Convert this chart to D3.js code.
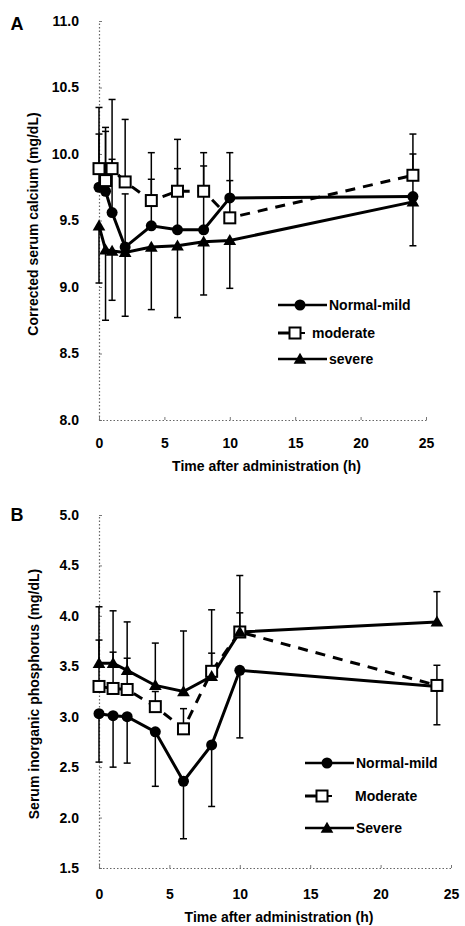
<!DOCTYPE html>
<html>
<head>
<meta charset="utf-8">
<script src="https://cdn.jsdelivr.net/npm/d3@7"></script>
<style>
  html, body { margin: 0; padding: 0; background: #fff; }
  svg { display: block; font-family: "Liberation Sans", Arial, sans-serif; }
</style>
</head>
<body>
<div id="chart"></div>
<script>
// ---- data ----
const timesA = [0, 0.5, 1, 2, 4, 6, 8, 10, 24];
const calciumNormal   = [9.75, 9.72, 9.56, 9.30, 9.46, 9.43, 9.43, 9.67, 9.68];
const calciumModerate = [9.89, 9.80, 9.89, 9.79, 9.65, 9.72, 9.72, 9.52, 9.84];
const calciumSevere   = [9.46, 9.28, 9.27, 9.26, 9.30, 9.31, 9.34, 9.35, 9.64];
const calciumNormalSD   = [0.40, 0.45, 0.40, 0.40, 0.35, 0.46, 0.48, 0.34, 0.32];
const calciumModerateSD = [0.46, 0.40, 0.52, 0.47, 0.36, 0.39, 0.29, 0.28, 0.31];
const calciumSevereSD   = [0.43, 0.53, 0.37, 0.48, 0.47, 0.54, 0.40, 0.36, 0.33];

const timesB = [0, 1, 2, 4, 6, 8, 10, 24];
const phosNormal   = [3.03, 3.01, 3.00, 2.85, 2.36, 2.72, 3.46, 3.30];
const phosModerate = [3.30, 3.28, 3.27, 3.10, 2.88, 3.45, 3.84, 3.31];
const phosSevere   = [3.53, 3.53, 3.46, 3.31, 3.25, 3.40, 3.84, 3.94];
const phosNormalSD   = [0.48, 0.51, 0.46, 0.54, 0.57, 0.61, 0.67, 0.38];
const phosModerateSD = [0.46, 0.36, 0.31, 0.15, 0.20, 0.18, 0.19, 0.20];
const phosSevereSD   = [0.56, 0.52, 0.48, 0.42, 0.60, 0.66, 0.56, 0.30];

const xTicks = [0, 5, 10, 15, 20, 25];
const yTicksA = [8.0, 8.5, 9.0, 9.5, 10.0, 10.5, 11.0];
const yTicksB = [1.5, 2.0, 2.5, 3.0, 3.5, 4.0, 4.5, 5.0];

const labelsA = ['Normal-mild', 'moderate', 'severe'];
const labelsB = ['Normal-mild', 'Moderate', 'Severe'];

const W = 465, H = 926;
const svg = d3.select('#chart').append('svg')
  .attr('width', W).attr('height', H);

function marker(g, kind, x, y) {
  if (kind === 'circle') {
    g.append('circle').attr('cx', x).attr('cy', y).attr('r', 5.5).attr('fill', '#000');
  } else if (kind === 'square') {
    g.append('rect').attr('x', x - 5.5).attr('y', y - 5.5)
      .attr('width', 11).attr('height', 11)
      .attr('fill', '#fff').attr('stroke', '#000').attr('stroke-width', 2);
  } else {
    g.append('path').attr('d', d3.symbol(d3.symbolTriangle, 70)())
      .attr('transform', `translate(${x},${y + 1})`).attr('fill', '#000');
  }
}

function drawPanel(p) {
  const x = d3.scaleLinear().domain([0, 25]).range(p.xRange);
  const y = d3.scaleLinear().domain(p.yDomain).range(p.yRange);
  const g = svg.append('g');

  // axes (faint dotted, as in the scan)
  const yAxis = g.append('g').attr('transform', `translate(${p.xRange[0]},0)`)
    .call(d3.axisLeft(y).tickValues(p.yTicks).tickFormat(d3.format('.1f'))
      .tickSizeInner(3).tickSizeOuter(0).tickPadding(17));
  const xAxis = g.append('g').attr('transform', `translate(0,${p.yRange[0]})`)
    .call(d3.axisBottom(x).tickValues(xTicks)
      .tickSizeInner(3).tickSizeOuter(0).tickPadding(p.xPad));
  [yAxis, xAxis].forEach(a => {
    a.select('.domain').attr('stroke', '#666').attr('stroke-width', 1.2)
      .attr('stroke-dasharray', '1.5,2');
    a.selectAll('.tick line').attr('stroke', '#777');
    a.selectAll('.tick text').attr('fill', '#000')
      .style('font-size', '14px').style('font-weight', 'bold');
  });
  yAxis.selectAll('.tick line').attr('x2', 3);
  xAxis.selectAll('.tick line').attr('y2', -3);

  // axis titles and panel letter
  g.append('text').attr('x', (p.xRange[0] + p.xRange[1]) / 2 + 4).attr('y', p.xTitleY)
    .attr('text-anchor', 'middle').style('font-size', '14px').style('font-weight', 'bold')
    .text('Time after administration (h)');
  g.append('text').attr('transform', `translate(${p.yTitleX},${p.yTitleY}) rotate(-90)`)
    .attr('text-anchor', 'middle').attr('dominant-baseline', 'central')
    .style('font-size', '14px').style('font-weight', 'bold')
    .text(p.yTitle);
  g.append('text').attr('x', 17).attr('y', p.letterY)
    .attr('text-anchor', 'middle').attr('dominant-baseline', 'central')
    .style('font-size', '18px').style('font-weight', 'bold').text(p.letter);

  const line = d3.line().x(d => x(d.t)).y(d => y(d.v));

  p.series.forEach(s => {
    const pts = p.times.map((t, i) => ({t, v: s.values[i], sd: s.sd[i]}));
    s.pts = pts;
    g.append('path').datum(pts).attr('d', line)
      .attr('fill', 'none').attr('stroke', '#000').attr('stroke-width', 3)
      .attr('stroke-dasharray', s.dash || null);
  });

  p.series.forEach(s => {
    const eb = g.append('g').attr('stroke', '#000').attr('stroke-width', 1.5);
    s.pts.forEach(d => {
      const y0 = y(d.v), y1 = y(d.v + s.dir * d.sd), cx = x(d.t);
      eb.append('line').attr('x1', cx).attr('x2', cx).attr('y1', y0).attr('y2', y1);
      eb.append('line').attr('x1', cx - 3.5).attr('x2', cx + 3.5).attr('y1', y1).attr('y2', y1);
    });
  });

  p.series.forEach(s => {
    const mg = g.append('g');
    s.pts.forEach(d => marker(mg, s.kind, x(d.t), y(d.v)));
  });

  // legend
  p.series.forEach(s => {
    const ly = p.legend.y[s.row], lx = p.legend.x;
    const lg = g.append('g');
    if (s.kind === 'square') {
      lg.append('line').attr('x1', lx).attr('x2', lx + 12).attr('y1', ly).attr('y2', ly)
        .attr('stroke', '#000').attr('stroke-width', 3);
      lg.append('line').attr('x1', lx + 22).attr('x2', lx + 27).attr('y1', ly).attr('y2', ly)
        .attr('stroke', '#000').attr('stroke-width', 2);
      marker(lg, s.kind, lx + 17, ly);
    } else {
      lg.append('line').attr('x1', lx).attr('x2', lx + 49).attr('y1', ly).attr('y2', ly)
        .attr('stroke', '#000').attr('stroke-width', 2.5);
      marker(lg, s.kind, lx + 22, ly);
    }
    lg.append('text').attr('x', lx + (s.kind === 'square' ? p.legend.sqText : 51)).attr('y', ly)
      .attr('dominant-baseline', 'central')
      .style('font-size', '14px').style('font-weight', 'bold')
      .text(p.labels[s.row]);
  });
}

drawPanel({
  letter: 'A', letterY: 24,
  xRange: [99, 426], yRange: [420, 21], yDomain: [8, 11], yTicks: yTicksA,
  xPad: 15, xTitleY: 471, yTitle: 'Corrected serum calcium (mg/dL)', yTitleX: 33, yTitleY: 224,
  times: timesA, labels: labelsA,
  series: [
    {row: 0, kind: 'circle', values: calciumNormal, sd: calciumNormalSD, dir: 1},
    {row: 1, kind: 'square', values: calciumModerate, sd: calciumModerateSD, dir: 1, dash: '10,8'},
    {row: 2, kind: 'triangle', values: calciumSevere, sd: calciumSevereSD, dir: -1}
  ],
  legend: {x: 278, y: [305, 333, 359], sqText: 34}
});

drawPanel({
  letter: 'B', letterY: 515,
  xRange: [99, 451], yRange: [868, 515], yDomain: [1.5, 5], yTicks: yTicksB,
  xPad: 18, xTitleY: 922, yTitle: 'Serum inorganic phosphorus (mg/dL)', yTitleX: 34, yTitleY: 694,
  times: timesB, labels: labelsB,
  series: [
    {row: 0, kind: 'circle', values: phosNormal, sd: phosNormalSD, dir: -1},
    {row: 1, kind: 'square', values: phosModerate, sd: phosModerateSD, dir: 1, dash: '10,8'},
    {row: 2, kind: 'triangle', values: phosSevere, sd: phosSevereSD, dir: 1}
  ],
  legend: {x: 305, y: [763, 796, 828], sqText: 50}
});
</script>
</body>
</html>
